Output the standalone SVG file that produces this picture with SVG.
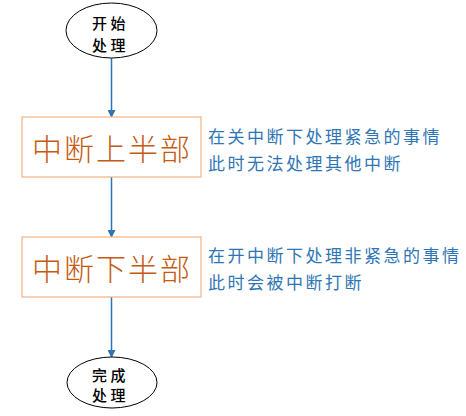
<svg xmlns="http://www.w3.org/2000/svg" width="466" height="416" viewBox="0 0 466 416">
<style>
.ell{fill:#fff;stroke:#000;stroke-width:1}
.box{fill:#fff;stroke:#F4B183;stroke-width:1.2}
.et{font-family:"Noto Sans CJK SC","Liberation Sans",sans-serif;font-size:15px;font-weight:500;fill:#000;text-anchor:middle;letter-spacing:3.5px}
.bt{font-family:"Noto Sans CJK SC","Liberation Sans",sans-serif;font-size:30px;font-weight:300;fill:#C55A11;text-anchor:middle;letter-spacing:2px}
.st{font-family:"Noto Sans CJK SC","Liberation Sans",sans-serif;font-size:17px;fill:#2E75B6;letter-spacing:2.5px}
.ln{stroke:#2E75B6;stroke-width:1.5;fill:none;marker-end:url(#ah)}
</style>
<defs>
<marker id="ah" markerWidth="8" markerHeight="8" refX="7" refY="4" orient="auto" markerUnits="userSpaceOnUse">
<path d="M0,0 L8,4 L0,8 Z" fill="#2E75B6"/>
</marker>
</defs>
<g id="connectors">
<line class="ln" x1="111.5" y1="58" x2="111.5" y2="117"/>
<line class="ln" x1="111.5" y1="177" x2="111.5" y2="237"/>
<line class="ln" x1="111.5" y1="297" x2="111.5" y2="357"/>
</g>
<g id="start">
<ellipse class="ell" cx="111.5" cy="30.5" rx="45.5" ry="27.5"/>
<text class="et" x="110.5" y="29">开始</text>
<text class="et" x="110.5" y="51">处理</text>
</g>
<g id="top-half">
<rect class="box" x="22" y="117" width="179" height="60"/>
<text class="bt" x="112" y="160">中断上半部</text>
</g>
<g id="note1">
<text class="st" x="208" y="143">在关中断下处理紧急的事情</text>
<text class="st" x="208" y="170">此时无法处理其他中断</text>
</g>
<g id="bottom-half">
<rect class="box" x="22" y="237" width="179" height="60"/>
<text class="bt" x="112" y="280">中断下半部</text>
</g>
<g id="note2">
<text class="st" x="208" y="262">在开中断下处理非紧急的事情</text>
<text class="st" x="208" y="289">此时会被中断打断</text>
</g>
<g id="end">
<ellipse class="ell" cx="112" cy="382.5" rx="45" ry="25.5"/>
<text class="et" x="110.5" y="381">完成</text>
<text class="et" x="110.5" y="401">处理</text>
</g>
</svg>
